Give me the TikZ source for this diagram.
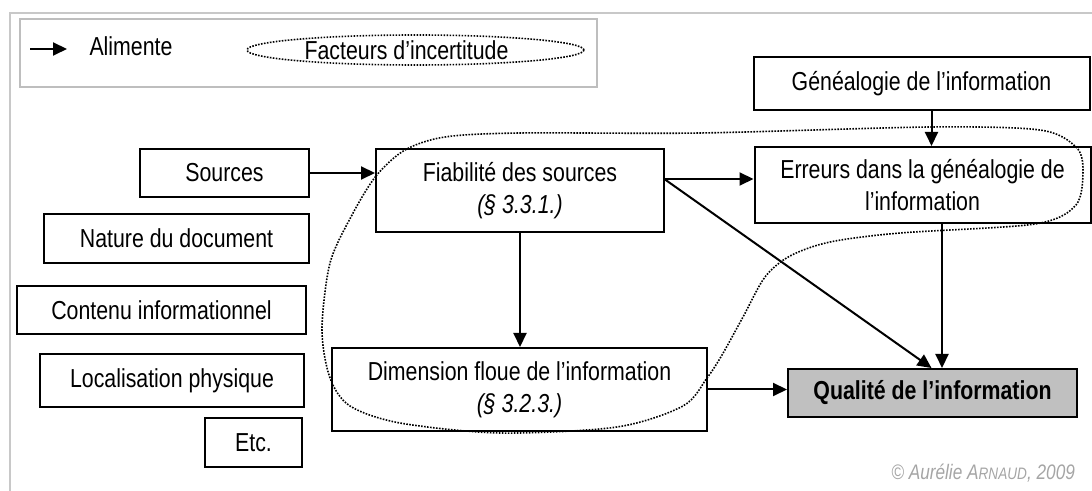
\documentclass[tikz,border=0pt]{standalone}
\usepackage{fontspec}
\setmainfont{Liberation Sans}[FakeStretch=0.82]
\usetikzlibrary{arrows.meta,shapes.geometric}
\definecolor{cFrame}{RGB}{200,200,200}
\definecolor{cLegend}{RGB}{190,190,190}
\definecolor{cQual}{RGB}{192,192,192}
\definecolor{cCopy}{RGB}{165,165,165}

\begin{document}
\begin{tikzpicture}[x=0.5pt,y=-0.5pt,
  font=\fontsize{13}{16}\selectfont,
  box/.style={draw,line width=1pt,align=center,inner sep=0pt},
  feed/.style={-{Triangle[length=7pt,width=6.5pt]},line width=1pt},
  zone/.style={line width=0.8pt,dash pattern=on 0.8pt off 0.7pt}]
\useasboundingbox (0,0) rectangle (1092,491);
\draw[cFrame,line width=1pt] (1092,13) -- (10,13) -- (10,491);
\node[draw=cLegend,line width=0.8pt,minimum width=288.5pt,minimum height=34pt,inner sep=0pt] (legend) at (308.5,53) {};
\coordinate (lgA) at (30,49);
\coordinate (lgB) at (67,49);
\draw[feed] (lgA) -- (lgB);
\node (lgFeed) at (131,46) {Alimente};
\node[ellipse,zone,draw,minimum width=168.5pt,minimum height=15pt,inner sep=0pt] (lgZone) at (415.5,50) {Facteurs d’incertitude\kern9pt};
\node[box,minimum width=84.5pt,minimum height=24pt] (src) at (224.5,173) {Sources};
\node[box,minimum width=132.5pt,minimum height=24.5pt] (nat) at (176.5,238.5) {Nature du document};
\node[box,minimum width=144.5pt,minimum height=24pt] (cont) at (161.5,310) {Contenu informationnel};
\node[box,minimum width=132pt,minimum height=26.5pt] (loc) at (172,380.5) {Localisation physique};
\node[box,minimum width=48.5pt,minimum height=24.5pt] (etc) at (253.5,442.5) {Etc.};
\node[box,minimum width=144pt,minimum height=41.5pt] (fiab) at (520,190.5) {Fiabilité des sources\\\textit{(§ 3.3.1.)}};
\node[box,minimum width=187.5pt,minimum height=41.5pt] (dim) at (519.5,389.5) {Dimension floue de l’information\\\textit{(§ 3.2.3.)}};
\node[box,minimum width=168pt,minimum height=26.5pt] (gen) at (921.5,83.5) {Généalogie de l’information};
\node[box,minimum width=168pt,minimum height=38pt] (err) at (922.5,185) {Erreurs dans la généalogie de\\l’information};
\node[box,fill=cQual,font=\fontsize{13}{16}\selectfont\bfseries,minimum width=144.5pt,minimum height=24pt] (qual) at (932.5,393) {Qualité de l’information};
\draw[feed] (src.east) -- (src.east -| fiab.west);
\draw[feed] ([yshift=5.75pt]fiab.east) -- ([yshift=5.75pt]fiab.east -| err.west);
\draw[feed] ([yshift=5.5pt]fiab.east) -- ([xshift=-0.5pt]qual.north);
\draw[feed] (fiab.south) -- (fiab.south |- dim.north);
\draw[feed] ([xshift=5pt]gen.south) -- ([xshift=5pt]gen.south |- err.north);
\draw[feed] ([xshift=9.75pt]err.south) -- ([xshift=9.75pt]err.south |- qual.north);
\draw[feed] (dim.east) -- (dim.east -| qual.west);
\draw[zone] plot[smooth cycle] coordinates {(352,215) (376,176) (405,150) (445,137) (520,133) (700,133) (930,127) (1040,130) (1076,147) (1083,170) (1076,205) (1035,224) (900,233) (830,242) (790,256) (765,277) (743,317) (722,355) (707,378) (683,406) (617,427) (500,433) (400,423) (350,406) (330,378) (322,330) (330,263)};
\node[anchor=east,text=cCopy,font=\fontsize{10.5}{12}\selectfont\itshape] (copy) at (1082,473) {© Aurélie A{\fontsize{8.3}{10}\selectfont RNAUD}, 2009};
\end{tikzpicture}
\end{document}
